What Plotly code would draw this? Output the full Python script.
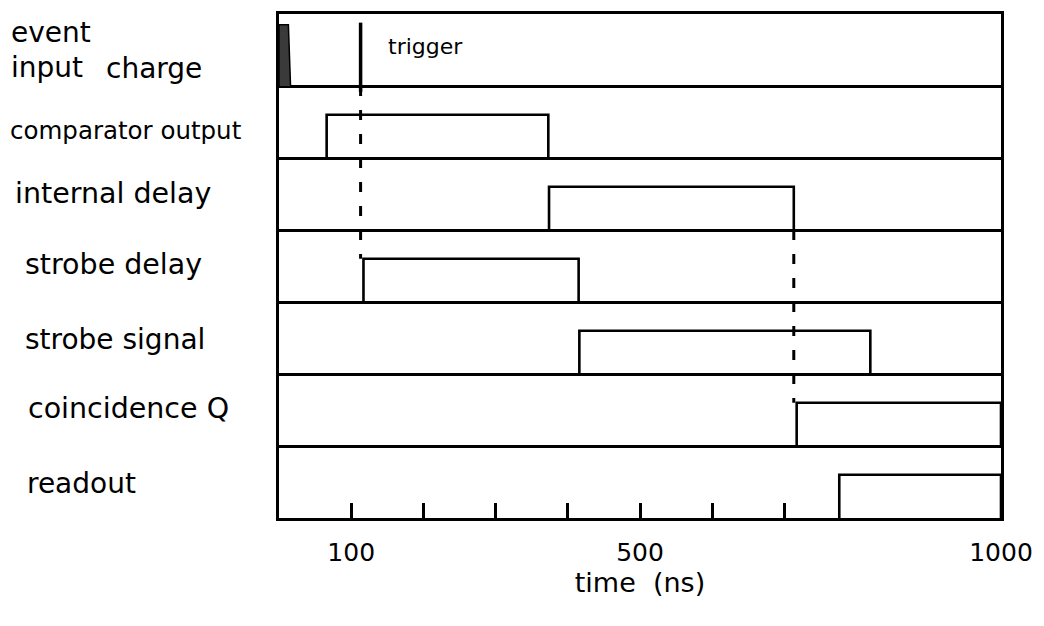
import plotly.graph_objects as go

# Timing rows, listed top to bottom
row_names = ["event", "comparator output", "internal delay", "strobe delay",
             "strobe signal", "coincidence Q", "readout"]

# Logic gate windows (start, end) in ns
comparator_output = (66, 373)
internal_delay = (374, 713)
strobe_delay = (117, 415)
strobe_signal = (416, 819)
coincidence_q = (717, 1000)
readout = (776, 1000)

# Input charge pulse outline (ns, height as fraction of the row)
charge_pulse_t = [0, 0, 13, 16]
charge_pulse_h = [0, 0.85, 0.85, 0]

# Trigger instant (ns)
trigger_t = 113

# Time axis ticks
time_ticks = [100, 200, 300, 400, 500, 600, 700, 1000]
time_tick_labels = ["100", "", "", "", "500", "", "", "1000"]

# ---- layout constants ----
W, H = 1044, 626
ML, MR, MT, MB = 279, 39, 11, 108
PW = W - ML - MR
PH = H - MT - MB
N = len(row_names)
HIGH = 0.6          # logic-high level inside a row
FONT = "DejaVu Sans"
LW = 2.6

def base(i):
    return N - 1 - i

fig = go.Figure()

gates = [comparator_output, internal_delay, strobe_delay,
         strobe_signal, coincidence_q, readout]
for i, (t0, t1) in enumerate(gates, start=1):
    b = base(i)
    fig.add_trace(go.Scatter(
        x=[t0, t0, t1, t1], y=[b, b + HIGH, b + HIGH, b],
        mode="lines", line=dict(color="black", width=LW),
        cliponaxis=False, hoverinfo="skip", showlegend=False))

# input charge pulse (shaded)
b0 = base(0)
fig.add_trace(go.Scatter(
    x=charge_pulse_t, y=[b0 + h for h in charge_pulse_h],
    mode="lines", fill="toself", fillcolor="#3a3a3a",
    line=dict(color="black", width=1.5),
    cliponaxis=False, hoverinfo="skip", showlegend=False))

# trigger marker
fig.add_trace(go.Scatter(
    x=[trigger_t, trigger_t], y=[b0 - 0.08, b0 + 0.88],
    mode="lines", line=dict(color="black", width=3.5),
    cliponaxis=False, hoverinfo="skip", showlegend=False))

# dashed guides: trigger -> strobe delay, internal delay end -> coincidence
fig.add_trace(go.Scatter(
    x=[trigger_t, trigger_t], y=[b0, base(3) + HIGH],
    mode="lines", line=dict(color="black", width=3, dash="10px,14px"),
    hoverinfo="skip", showlegend=False))
fig.add_trace(go.Scatter(
    x=[internal_delay[1], internal_delay[1]], y=[base(2), base(5) + HIGH],
    mode="lines", line=dict(color="black", width=3, dash="10px,14px"),
    hoverinfo="skip", showlegend=False))

# row labels
def px_x(px):
    return (px - ML) / PW

def px_y(py):
    return 1 - (py - MT) / PH

label_specs = [
    ("event", 8, 30, 28),
    ("input", 8, 65, 28),
    ("charge", 103, 66, 28),
    ("comparator output", 6, 128, 24.5),
    ("internal delay", 12, 192, 28.5),
    ("strobe delay", 22, 263, 28.5),
    ("strobe signal", 22, 338, 28),
    ("coincidence Q", 25, 408, 28.5),
    ("readout", 24, 483, 28),
]
annotations = []
for text, lx, ly, fs in label_specs:
    annotations.append(dict(
        text=text, xref="paper", yref="paper", x=px_x(lx), y=px_y(ly),
        xanchor="left", yanchor="middle", showarrow=False,
        font=dict(family=FONT, size=fs, color="black")))
annotations.append(dict(
    text="trigger", xref="paper", yref="paper", x=px_x(387), y=px_y(44),
    xanchor="left", yanchor="middle", showarrow=False,
    font=dict(family=FONT, size=22, color="black")))

fig.update_layout(
    width=W, height=H,
    margin=dict(l=ML, r=MR, t=MT, b=MB),
    paper_bgcolor="white", plot_bgcolor="white",
    annotations=annotations,
    showlegend=False,
    xaxis=dict(
        range=[0, 1000], showgrid=False, zeroline=False,
        showline=True, mirror=True, linecolor="black", linewidth=3,
        ticks="inside", ticklen=15, tickwidth=2.5, tickcolor="black",
        tickvals=time_ticks, ticktext=time_tick_labels,
        tickfont=dict(family=FONT, size=25, color="black"),
        ticklabelstandoff=10,
        title=dict(text="time  (ns)", standoff=6,
                   font=dict(family=FONT, size=27, color="black")),
    ),
    yaxis=dict(
        range=[0, N], showline=True, mirror=True, linecolor="black", linewidth=3,
        tickvals=list(range(1, N)), showticklabels=False, ticks="",
        showgrid=True, gridcolor="black", gridwidth=3, zeroline=False,
    ),
)

fig.write_html("out.html")
